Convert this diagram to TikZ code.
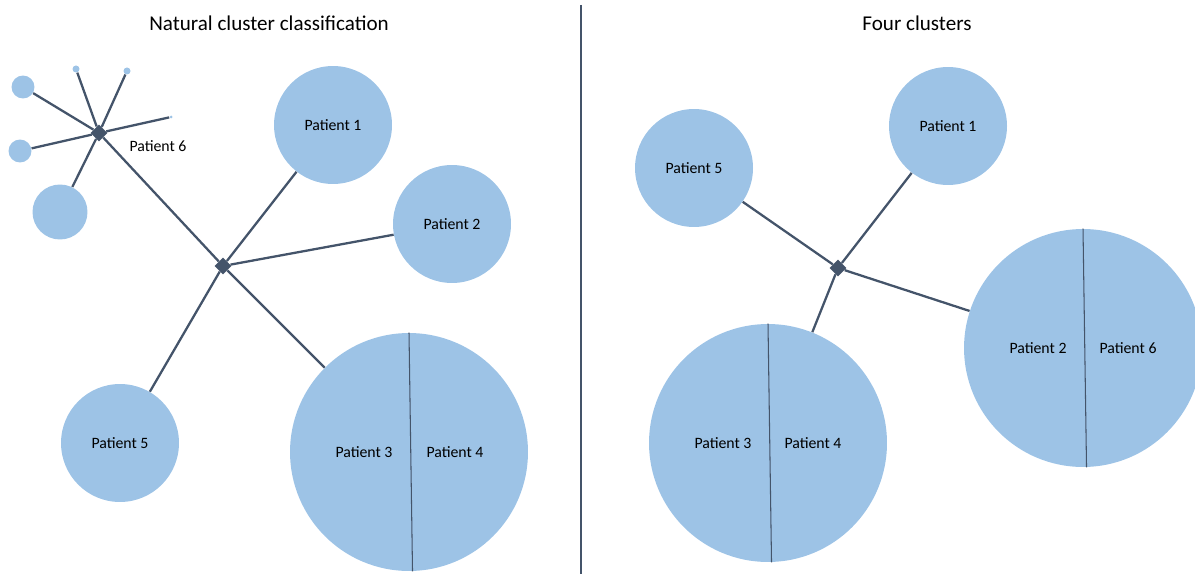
\documentclass[tikz,border=0pt]{standalone}
\usepackage{fontspec}
\setmainfont{Carlito}
\usepackage{tikz}
\usetikzlibrary{shapes.geometric}
\definecolor{linkc}{HTML}{44546A}
\definecolor{blobc}{HTML}{9DC3E6}

\begin{document}
\begin{tikzpicture}[x=0.02cm,y=-0.02cm,
	hub/.style={diamond,fill=linkc,inner sep=0pt,minimum size=0.34cm},
	blob/.style={circle,fill=blobc,inner sep=0pt,font=\fontsize{9}{10}\selectfont},
	pat/.style={blob,minimum size=2.36cm},
	bigpat/.style={blob,minimum size=4.76cm},
	link/.style={draw=linkc,line width=1.3pt},
	split/.style={draw=linkc,line width=0.6pt}]
	\useasboundingbox (0,0) rectangle (1195,574);
	\node[font=\fontsize{12}{14}\selectfont] (t1) at (269,23) {Natural cluster classification};
	\node[font=\fontsize{12}{14}\selectfont] (t2) at (917,23) {Four clusters};
	\draw[linkc,line width=0.6pt] (581,5) coordinate (top) -- (581,574) coordinate (bot);
	% left: natural clusters
	\node[hub] (h6) at (99,133) {};
	\node[hub] (h0) at (223,266) {};
	\node[blob,minimum size=0.46cm] (s1) at (23,87) {};
	\node[blob,minimum size=0.46cm] (s2) at (20,151) {};
	\node[blob,minimum size=1.1cm] (s3) at (60,212) {};
	\node[blob,minimum size=0.14cm] (s4) at (76,69) {};
	\node[blob,minimum size=0.14cm] (s5) at (127,71) {};
	\node[blob,minimum size=0.06cm] (s6) at (171,117) {};
	\node[font=\fontsize{9}{10}\selectfont] (l6) at (158,146) {Patient 6};
	\node[pat] (p1) at (333,125) {Patient 1};
	\node[pat] (p2) at (452,224) {Patient 2};
	\node[pat] (p5) at (120,443) {Patient 5};
	\node[bigpat] (p34) at (409,452) {};
	\node (p3) at (364,452) {\fontsize{9}{10}\selectfont Patient 3};
	\node (p4) at (455,452) {\fontsize{9}{10}\selectfont Patient 4};
	\path[link]
	(h6) edge (s1) edge (s2) edge (s3) edge (s4) edge (s5) edge (s6)
	(h0) edge (h6) edge (p1) edge (p2) edge (p5) edge (p34);
	\draw[split] (p34.north) -- ([xshift=2]p34.south);
	% right: four clusters
	\node[hub] (k0) at (838,268) {};
	\node[pat] (q1) at (948,126) {Patient 1};
	\node[pat] (q5) at (694,168) {Patient 5};
	\node[bigpat] (q26) at (1083,348) {};
	\node[bigpat] (q34) at (768,443) {};
	\node (q2) at (1038,348) {\fontsize{9}{10}\selectfont Patient 2};
	\node (q6) at (1128,348) {\fontsize{9}{10}\selectfont Patient 6};
	\node (q3) at (723,443) {\fontsize{9}{10}\selectfont Patient 3};
	\node (q4) at (813,443) {\fontsize{9}{10}\selectfont Patient 4};
	\path[link]
	(k0) edge (q1) edge (q5) edge (q26) edge (q34);
	\draw[split] (q26.north) -- ([xshift=2]q26.south);
	\draw[split] (q34.north) -- ([xshift=2]q34.south);
\end{tikzpicture}
\end{document}
